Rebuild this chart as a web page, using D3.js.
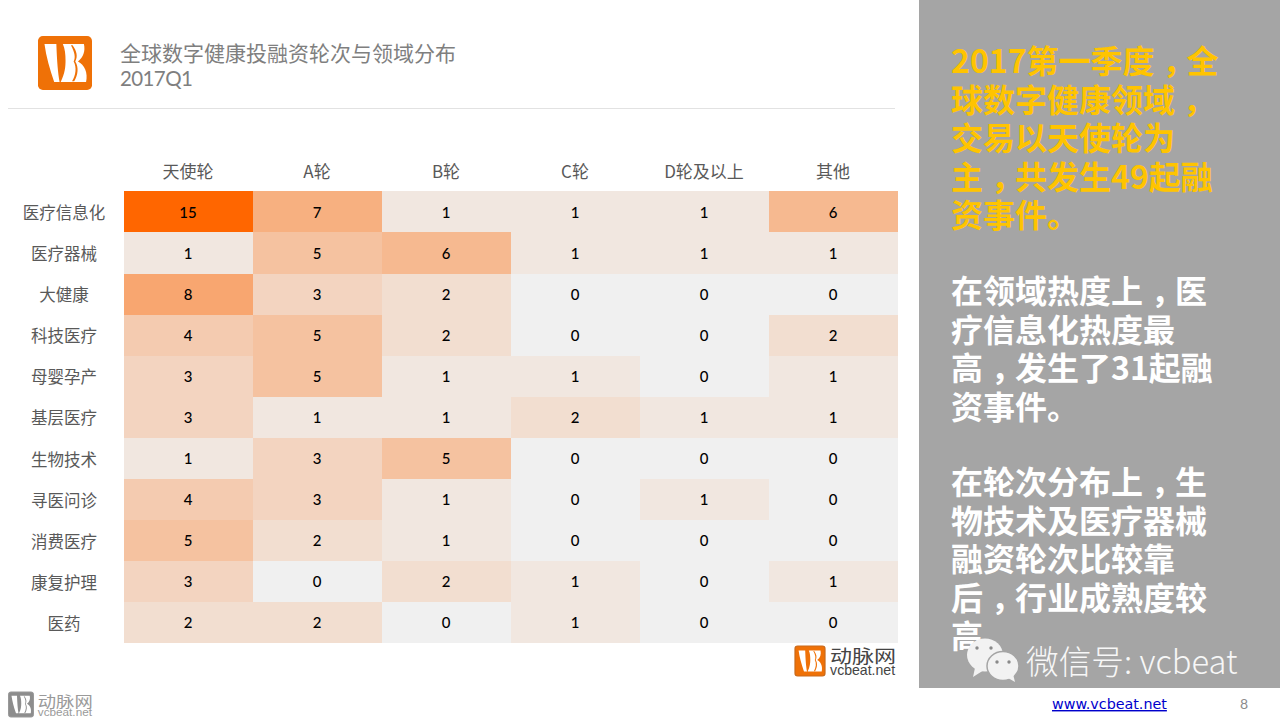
<!DOCTYPE html>
<html>
<head>
<meta charset="utf-8">
<script src="https://cdnjs.cloudflare.com/ajax/libs/d3/7.8.5/d3.min.js"></script>
<style>
  html, body { margin: 0; padding: 0; background: #fff; overflow: hidden; }
  svg { display: block; }
  text { font-family: "Noto Sans CJK SC", Lato, sans-serif; }
  .tick line, .domain { display: none; }
</style>
</head>
<body>
<div id="chart"></div>
<script>
const rounds = ["天使轮", "A轮", "B轮", "C轮", "D轮及以上", "其他"]
const fields = ["医疗信息化", "医疗器械", "大健康", "科技医疗", "母婴孕产", "基层医疗", "生物技术", "寻医问诊", "消费医疗", "康复护理", "医药"]
const counts = [
  [15, 7, 1, 1, 1, 6],
  [1, 5, 6, 1, 1, 1],
  [8, 3, 2, 0, 0, 0],
  [4, 5, 2, 0, 0, 2],
  [3, 5, 1, 1, 0, 1],
  [3, 1, 1, 2, 1, 1],
  [1, 3, 5, 0, 0, 0],
  [4, 3, 1, 0, 1, 0],
  [5, 2, 1, 0, 0, 0],
  [3, 0, 2, 1, 0, 1],
  [2, 2, 0, 1, 0, 0]
]
const titleLines = ["全球数字健康投融资轮次与领域分布", "2017Q1"]
const panelYellow = ["2017第一季度，全", "球数字健康领域，", "交易以天使轮为", "主，共发生49起融", "资事件。"]
const panelWhite1 = ["在领域热度上，医", "疗信息化热度最", "高，发生了31起融", "资事件。"]
const panelWhite2 = ["在轮次分布上，生", "物技术及医疗器械", "融资轮次比较靠", "后，行业成熟度较", "高。"]

let svg = d3.select("#chart").append("svg")
  .attr("width", 1280)
  .attr("height", 720)

//logo, drawn in a 100 unit box
function drawLogo(x, y, size, fill, border){
  let g = svg.append("g").attr("transform", "translate(" + x + "," + y + ") scale(" + size / 100 + ")")
  g.append("rect")
    .attr("x", 0).attr("y", 0).attr("width", 100).attr("height", 100).attr("rx", 9)
    .attr("fill", fill)
    .attr("stroke", border || "none")
    .attr("stroke-width", border ? 4 : 0)
  g.append("path")
    .attr("d", "M12,15 L34,15 C35,45 37,70 40,85 L30,85 C22,62 15,38 12,15Z")
    .attr("fill", "#fff")
  g.append("path")
    .attr("d", "M46,15 L85,15 C88,28 84,40 74,47 C86,53 93,68 89,85 L42,85 C50,70 51,56 51,46 C51,34 50,24 46,15Z")
    .attr("fill", "#fff")
  g.append("path")
    .attr("d", "M61,17 C68,30 70,40 66,47 C72,58 70,72 63,84 L67,84 C74,72 76,58 69,47 C74,38 72,28 64,17Z")
    .attr("fill", fill)
}

//header
drawLogo(38, 36, 54, "#ef7107")
svg.selectAll(".title")
  .data(titleLines)
  .enter()
  .append("text")
  .attr("class", "title")
  .text(d => d)
  .attr("x", 120)
  .attr("y", (d, i) => 61 + i * 25)
  .attr("font-size", (d, i) => i ? 20.5 : 21)
  .style("font-family", (d, i) => i ? "Lato, sans-serif" : null)
  .style("letter-spacing", (d, i) => i ? "-0.6px" : null)
  .attr("fill", "#7f7f7f")
svg.append("line")
  .attr("x1", 8).attr("x2", 895)
  .attr("y1", 108.5).attr("y2", 108.5)
  .attr("stroke", "#e2e2e2")

//heatmap
let x = d3.scaleBand().domain(rounds).range([123.5, 897.5])
let y = d3.scaleBand().domain(fields).range([191.4, 643])
let color = d3.scaleLinear()
  .domain([0, d3.max(counts.flat())])
  .range(["#f0f0f0", "#ff6600"])

let cells = []
fields.forEach((f, i) => rounds.forEach((r, j) => cells.push({field: f, round: r, value: counts[i][j]})))

svg.selectAll(".cell")
  .data(cells)
  .enter()
  .append("rect")
  .attr("class", "cell")
  .attr("x", d => x(d.round))
  .attr("y", d => y(d.field))
  .attr("width", x.bandwidth())
  .attr("height", y.bandwidth())
  .attr("fill", d => color(d.value))
  .attr("shape-rendering", "crispEdges")

svg.selectAll(".cellLabel")
  .data(cells)
  .enter()
  .append("text")
  .attr("class", "cellLabel")
  .text(d => d.value)
  .attr("x", d => x(d.round) + x.bandwidth() / 2)
  .attr("y", d => y(d.field) + y.bandwidth() / 2 + 6)
  .style("text-anchor", "middle")
  .style("font-family", "Lato, sans-serif")
  .style("font-weight", "500")
  .attr("font-size", 15)
  .attr("fill", "#000")

//axes
let topAxis = svg.append("g")
  .attr("transform", "translate(0,178)")
  .call(d3.axisTop(x).tickSize(0).tickPadding(0))
topAxis.selectAll("text")
  .attr("font-size", 17)
  .attr("fill", "#595959")
  .style("font-family", "\"Noto Sans CJK SC\", sans-serif")

let leftAxis = svg.append("g")
  .attr("transform", "translate(115,2)")
  .call(d3.axisLeft(y).tickSize(0).tickPadding(0))
leftAxis.selectAll("text")
  .attr("font-size", 16.5)
  .attr("fill", "#595959")
  .style("text-anchor", "middle")
  .attr("x", -51)
  .style("font-family", "\"Noto Sans CJK SC\", sans-serif")

//right panel
svg.append("rect")
  .attr("x", 919).attr("y", 0)
  .attr("width", 361).attr("height", 688)
  .attr("fill", "#a5a5a5")

//the reference centres its full width comma in the cell, so push it over
function panelText(lines, top, fill){
  let rows = svg.selectAll(null)
    .data(lines)
    .enter()
    .append("text")
    .attr("x", 951)
    .attr("y", (d, i) => top + i * 38.5)
    .attr("font-size", 32)
    .attr("font-weight", 700)
    .attr("fill", fill)
  rows.each(function(d){
    let row = d3.select(this)
    d.split(/(，)/).filter(s => s != "").forEach((s, i, parts) => {
      row.append("tspan")
        .text(s)
        .attr("dx", s == "，" ? 8 : (i > 0 && parts[i-1] == "，" ? -8 : 0))
    })
  })
}
panelText(panelYellow, 73, "#ffc400")
panelText(panelWhite1, 303, "#fff")
panelText(panelWhite2, 494, "#fff")

//wechat watermark
let wechat = svg.append("g").attr("fill", "#f2f2f2")
wechat.append("ellipse").attr("cx", 985).attr("cy", 655).attr("rx", 18).attr("ry", 16.5)
wechat.append("path").attr("d", "M975,668 L973,677 L984,670Z")
wechat.append("ellipse").attr("cx", 1003).attr("cy", 666).attr("rx", 16).attr("ry", 14.5)
  .attr("stroke", "#a5a5a5").attr("stroke-width", 1.5)
wechat.append("path").attr("d", "M1008,678 L1015,682 L1013,674Z")
wechat.selectAll(".eye")
  .data([[977, 648], [991, 648], [997, 662], [1009, 662]])
  .enter()
  .append("circle")
  .attr("cx", d => d[0]).attr("cy", d => d[1]).attr("r", 1.7)
  .attr("fill", "#8a8a8a")
svg.append("text")
  .text("微信号: vcbeat")
  .attr("x", 1026)
  .attr("y", 674)
  .attr("font-size", 32.7)
  .attr("fill", "#f7f7f7")
  .style("font-weight", "300")
  .style("font-family", "\"Noto Sans CJK SC\", Roboto, sans-serif")

//brand marks
function brand(xPos, yPos, size, logoFill, textFill, border){
  drawLogo(xPos, yPos, size, logoFill, border)
  svg.append("text")
    .text("动脉网")
    .attr("x", xPos + size * 1.17)
    .attr("y", yPos + size * 0.58)
    .attr("font-size", size * 0.6)
    .attr("textLength", size * 2.2)
    .attr("lengthAdjust", "spacingAndGlyphs")
    .attr("fill", textFill)
  svg.append("text")
    .text("vcbeat.net")
    .attr("x", xPos + size * 1.17)
    .attr("y", yPos + size * 0.97)
    .attr("font-size", size * 0.47)
    .style("font-family", "\"Liberation Sans\", sans-serif")
    .attr("fill", textFill)
}
brand(795, 646, 30, "#ef7107", "#444", "#c96a1c")
brand(8.5, 692, 25, "#8d8d8d", "#9a9a9a", "#999")

//footer
svg.append("text")
  .text("www.vcbeat.net")
  .attr("x", 1052)
  .attr("y", 709)
  .attr("font-size", 14.3)
  .style("font-family", "\"DejaVu Sans\", sans-serif")
  .style("text-decoration", "underline")
  .attr("fill", "#0000cc")
svg.append("text")
  .text("8")
  .attr("x", 1244)
  .attr("y", 709)
  .attr("font-size", 14)
  .style("text-anchor", "middle")
  .style("font-family", "Lato, sans-serif")
  .attr("fill", "#8c8c8c")
</script>
</body>
</html>
